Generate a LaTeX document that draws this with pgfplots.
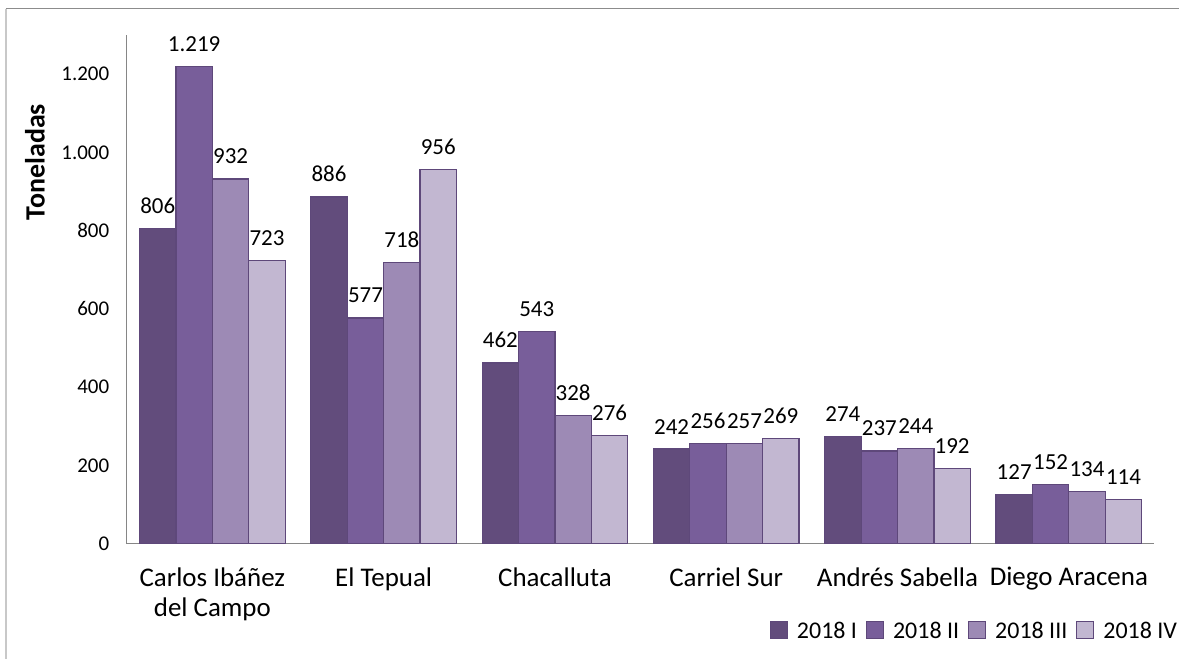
\documentclass[border=0pt]{standalone}
\usepackage{pgfplots}
\pgfplotsset{compat=1.18}
\usepackage{fontspec}
\setmainfont{Carlito}

\definecolor{cI}{RGB}{98,76,124}
\definecolor{cII}{RGB}{120,94,154}
\definecolor{cIII}{RGB}{157,138,181}
\definecolor{cIV}{RGB}{194,183,209}
\definecolor{edge}{RGB}{94,72,122}
\definecolor{axisgray}{RGB}{134,134,134}

\begin{document}
\begin{tikzpicture}[x=1pt,y=1pt]
  % page size and chart frame
  \path (-127,-115) rectangle (1055,545);
  \draw[color={rgb,255:red,200;green,200;blue,200},line width=1.5pt] (-121,-115) -- (-121,536);
  \draw[color={rgb,255:red,140;green,140;blue,140},line width=1pt] (-121,536) -- (1055,536);
  \begin{axis}[
      at={(0,0)}, anchor=south west,
      scale only axis,
      width=1030pt, height=510pt,
      ybar=0pt, bar width=36.5pt,
      xmin=-0.5, xmax=5.5,
      ymin=0, ymax=1300,
      xtick=data,
      xticklabels={{Carlos Ibáñez\\del Campo},El Tepual,Chacalluta,Carriel Sur,Andrés Sabella,Diego Aracena},
      xticklabel style={align=center, font=\fontsize{27}{31}\selectfont, yshift=-20pt},
      ytick={0,200,...,1200},
      yticklabel style={font=\fontsize{21}{25}\selectfont, xshift=-14pt},
      /pgf/number format/.cd, 1000 sep={.}, assume math mode=true,
      /pgfplots/.cd,
      major tick length=0pt,
      axis x line*=bottom, axis y line*=left,
      axis line style={axisgray, line width=1pt},
      ylabel={\textbf{Toneladas}},
      every axis y label/.style={at={(axis description cs:-0.0893,0.75)}, rotate=90, anchor=center,
        font=\fontsize{28}{32}\selectfont},
      nodes near coords,
      nodes near coords style={font=\fontsize{23}{27}\selectfont, /pgf/number format/1000 sep={.}, /pgf/number format/assume math mode=true, yshift=11pt},
      every axis plot/.append style={draw=edge, line width=1.2pt},
      legend columns=-1,
      legend style={at={(axis description cs:1.027,-0.171)}, anchor=east, draw=none,
        font=\fontsize{24}{28}\selectfont, column sep=7pt},
      legend image code/.code={\draw[#1] (0pt,-8pt) rectangle (17pt,9pt);},
    ]
    \addplot[fill=cI] coordinates {(0,806) (1,886) (2,462) (3,242) (4,274) (5,127)};
    \addplot[fill=cII] coordinates {(0,1219) (1,577) (2,543) (3,256) (4,237) (5,152)};
    \addplot[fill=cIII] coordinates {(0,932) (1,718) (2,328) (3,257) (4,244) (5,134)};
    \addplot[fill=cIV] coordinates {(0,723) (1,956) (2,276) (3,269) (4,192) (5,114)};
    \legend{2018 I,2018 II,2018 III,2018 IV}
  \end{axis}
\end{tikzpicture}
\end{document}
